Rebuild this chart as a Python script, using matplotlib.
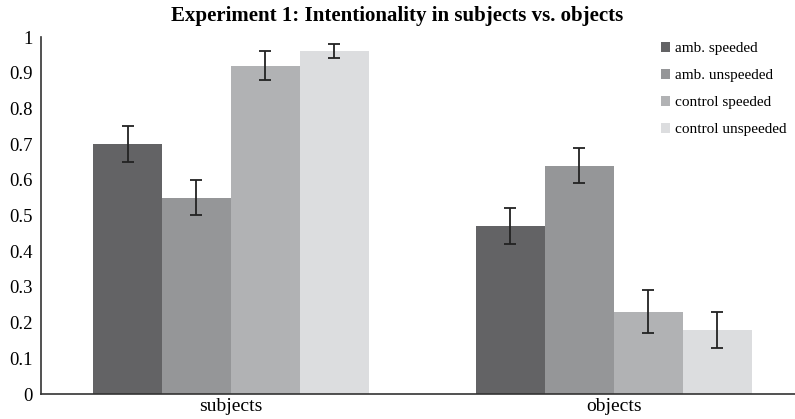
import matplotlib
matplotlib.use("Agg")
import matplotlib.pyplot as plt
import numpy as np

categories = ["subjects", "objects"]
series_names = ["amb. speeded", "amb. unspeeded", "control speeded", "control unspeeded"]
values = {
    "amb. speeded": [0.70, 0.47],
    "amb. unspeeded": [0.55, 0.64],
    "control speeded": [0.92, 0.23],
    "control unspeeded": [0.96, 0.18],
}
errors = {
    "amb. speeded": [0.05, 0.05],
    "amb. unspeeded": [0.05, 0.05],
    "control speeded": [0.04, 0.06],
    "control unspeeded": [0.02, 0.05],
}
colors = ["#636365", "#959698", "#b1b2b4", "#dcdddf"]
yticks = [0, 0.1, 0.2, 0.3, 0.4, 0.5, 0.6, 0.7, 0.8, 0.9, 1]
ytick_labels = ["0", "0.1", "0.2", "0.3", "0.4", "0.5", "0.6", "0.7", "0.8", "0.9", "1"]

plt.rcParams['font.family'] = ['Liberation Serif', 'DejaVu Serif']

fig = plt.figure(figsize=(7.95, 4.19), dpi=100)
ax = fig.add_axes([41/795, 1-394/419, 1-41/795, (394-37)/419])

x = np.arange(len(categories))
w = 0.18
n = len(series_names)
for i, name in enumerate(series_names):
    pos = x + (i - (n-1)/2) * w
    ax.bar(pos, values[name], width=w, color=colors[i], label=name, zorder=2)
    ax.errorbar(pos, values[name], yerr=errors[name], fmt='none', ecolor='#222222',
                elinewidth=1.3, capsize=4, capthick=1.3, zorder=3)

ax.set_xlim(-0.496, 1.473)
ax.set_ylim(0, 1)
ax.set_yticks(yticks)
ax.set_yticklabels(ytick_labels, fontsize=13.5)
ax.set_xticks(x)
ax.set_xticklabels(categories, fontsize=14)
ax.tick_params(axis='both', length=0, pad=6)
ax.tick_params(axis='x', pad=3)
for s in ['top', 'right']:
    ax.spines[s].set_visible(False)
for s in ['left', 'bottom']:
    ax.spines[s].set_color('#333333')
    ax.spines[s].set_linewidth(1.2)

fig.text(0.5, 0.962, "Experiment 1: Intentionality in subjects vs. objects",
         ha='center', va='center', fontsize=15, fontweight='bold')

leg = ax.legend(loc='upper left', bbox_to_anchor=(658/795, 1-39/419),
                bbox_transform=fig.transFigure, frameon=False, fontsize=11,
                handlelength=0.6, handleheight=0.6, handletextpad=0.3,
                labelspacing=0.9, borderaxespad=0, borderpad=0.2)

fig.savefig("out.png", dpi=100)
